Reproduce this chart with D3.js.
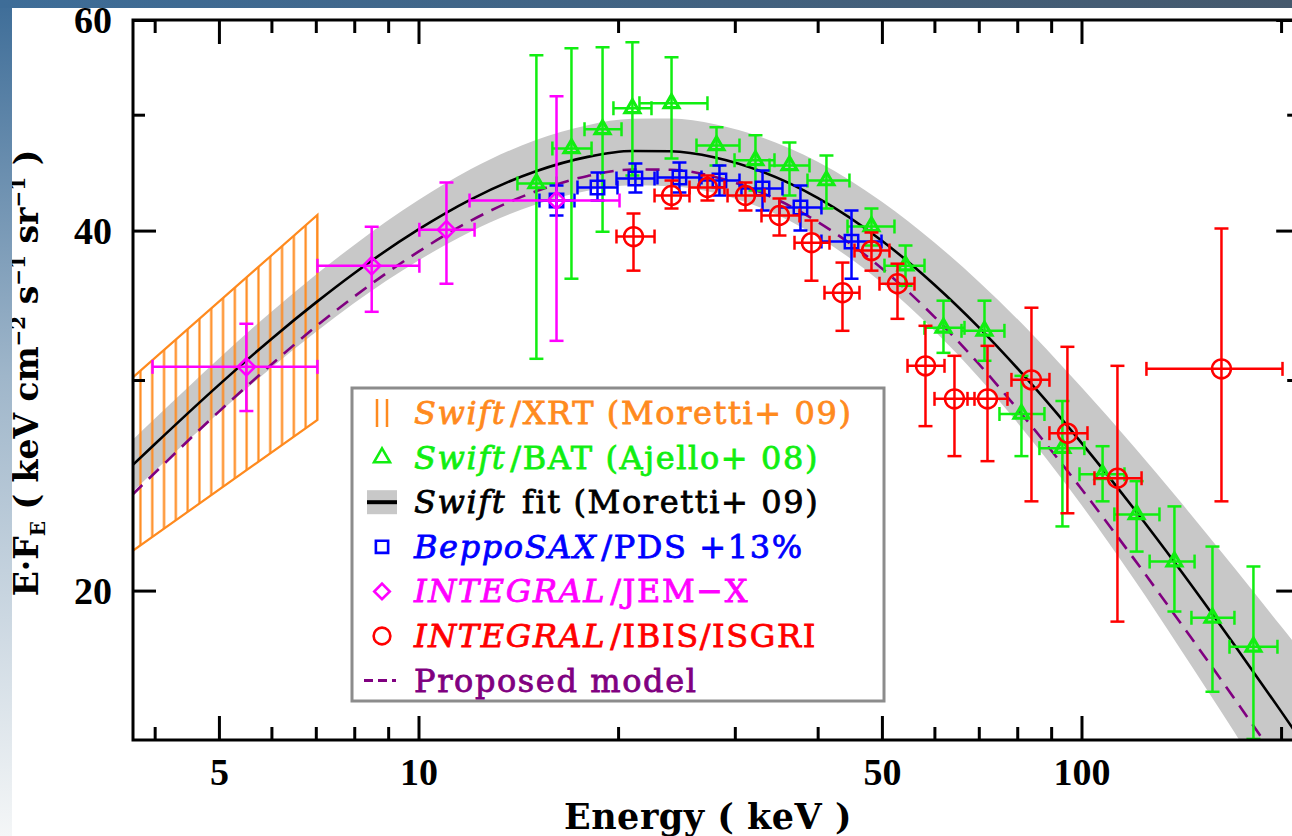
<!DOCTYPE html>
<html><head><meta charset="utf-8">
<script src="https://cdn.jsdelivr.net/npm/d3@7"></script>
<style>body{margin:0;background:#fff;} svg{display:block}</style>
</head><body>
<svg id="c" width="1292" height="836"></svg>
<script>
// ---------------- data ----------------
const xTicksMajor = [5, 10, 50, 100];
const xTicksMinor = [4, 6, 7, 8, 9, 20, 30, 40, 60, 70, 80, 90, 200];
const yTicksMajor = [20, 40, 60];
const yTicksMinor = [30, 50];

// Swift fit (Moretti+09) and its band, E*F_E
const fitE    = [3.7, 4, 5, 6, 7, 8, 10, 12, 15, 18, 21, 24, 28, 33, 40, 50, 60, 70, 85, 100, 120, 140, 170, 200, 220];
const fitF    = [25.45, 26.51, 29.72, 32.47, 34.82, 36.85, 40.09, 42.48, 44.82, 46.10, 46.62, 46.60, 46.05, 44.80, 42.60, 39.23, 36.04, 33.20, 29.56, 26.58, 23.41, 20.91, 18.02, 15.85, 14.68];
const fitHigh = [26.72, 27.84, 31.27, 34.22, 36.74, 38.91, 42.42, 45.03, 47.60, 49.00, 49.60, 49.63, 49.09, 47.85, 45.67, 42.29, 39.10, 36.25, 32.61, 29.58, 26.38, 23.84, 20.90, 18.67, 17.47];
const fitLow  = [24.18, 25.18, 28.17, 30.72, 32.90, 34.79, 37.76, 39.93, 42.04, 43.19, 43.64, 43.57, 43.01, 41.75, 39.53, 36.17, 32.98, 30.15, 26.52, 23.58, 20.44, 17.98, 15.23, 13.16, 12.04];
// Proposed model (dashed)
const modelF  = [24.05, 25.08, 28.23, 30.91, 33.25, 35.23, 38.41, 40.78, 43.12, 44.44, 44.99, 44.97, 44.35, 43.01, 40.68, 37.19, 33.88, 30.94, 27.25, 24.32, 21.26, 18.90, 16.25, 14.27, 13.21];

// Swift/XRT bow-tie (hatched)
const xrtE    = [3.71, 7.04];
const xrtHigh = [29.15, 41.22];
const xrtLow  = [21.02, 27.78];

// rows: [E, Elo, Ehi, F, Flo, Fhi]
const bat = [
  [15.06, 14.10, 16.15, 43.80, 31.25, 56.07],
  [17.01, 15.92, 18.24, 46.86, 36.46, 56.83],
  [18.95, 17.80, 20.24, 48.61, 39.92, 56.94],
  [21.02, 19.68, 22.46, 50.62, 44.48, 57.49],
  [24.08, 21.54, 27.28, 51.11, 45.96, 55.85],
  [28.15, 26.26, 30.49, 47.13, 45.35, 48.80],
  [32.23, 29.97, 34.43, 45.79, 43.21, 48.05],
  [36.27, 33.84, 38.88, 45.35, 42.80, 47.40],
  [41.24, 38.61, 44.67, 44.05, 41.74, 46.23],
  [48.22, 44.37, 52.23, 40.32, 38.86, 41.74],
  [54.27, 50.45, 57.97, 37.39, 35.97, 38.86],
  [61.92, 57.97, 66.61, 33.17, 31.61, 34.95],
  [71.40, 65.92, 76.52, 32.98, 31.13, 34.95],
  [81.18, 75.21, 87.93, 28.10, 25.91, 30.24],
  [93.59, 86.41, 101.0, 26.31, 22.63, 28.81],
  [107.6, 99.31, 116.1, 25.02, 23.75, 26.41],
  [121.1, 112.1, 131.1, 23.16, 21.56, 24.69],
  [138.1, 126.7, 148.1, 21.15, 19.21, 23.52],
  [157.6, 146.5, 170.1, 18.98, 16.46, 21.77],
  [181.7, 167.2, 197.5, 17.95, 15.03, 20.95]
];
const pds = [
  [16.15, 15.22, 17.19, 42.39, 41.18, 43.63],
  [18.62, 17.37, 19.96, 43.46, 42.39, 44.74],
  [21.24, 19.89, 22.70, 44.22, 43.05, 45.52],
  [24.75, 22.93, 26.72, 44.31, 43.05, 45.61],
  [28.44, 26.53, 30.49, 44.05, 42.80, 45.35],
  [33.03, 30.70, 35.40, 43.38, 41.58, 44.91],
  [37.68, 35.03, 40.53, 41.82, 40.00, 43.63],
  [44.99, 40.53, 49.93, 39.16, 36.46, 41.58]
];
const jemx = [
  [5.50, 3.97, 7.04, 30.77, 28.26, 33.43],
  [8.50, 7.04, 10.03, 37.38, 34.21, 40.30],
  [11.02, 10.03, 12.15, 40.07, 36.11, 43.89],
  [16.15, 11.94, 20.10, 42.39, 32.35, 51.80]
];
const isgri = [
  [21.10, 19.89, 22.70, 39.54, 37.03, 41.34],
  [24.08, 22.70, 25.63, 42.80, 41.74, 44.05],
  [27.28, 25.63, 28.94, 43.46, 42.39, 44.48],
  [31.13, 29.25, 33.26, 42.80, 41.58, 43.89],
  [35.03, 32.91, 37.55, 41.18, 39.62, 42.55],
  [39.15, 36.91, 41.68, 39.08, 36.32, 40.79],
  [43.60, 40.96, 46.25, 35.49, 32.98, 37.61],
  [48.22, 45.46, 51.33, 38.49, 37.03, 39.85],
  [52.78, 49.58, 55.99, 36.11, 33.75, 37.53],
  [58.17, 54.65, 62.14, 30.83, 27.45, 33.30],
  [64.33, 60.02, 68.96, 28.93, 25.91, 31.43],
  [72.15, 67.31, 77.33, 28.93, 25.66, 32.04],
  [84.05, 78.41, 89.47, 30.01, 23.75, 34.48],
  [95.23, 89.47, 102.1, 27.08, 23.21, 31.98],
  [113.3, 104.6, 123.2, 24.83, 18.84, 30.83],
  [162.6, 125.3, 201.0, 30.65, 23.75, 40.16]
];

const legendRows = [
  {it: "Swift", rest: "/XRT (Moretti+ 09)", color: "#ff8a1e", sym: "xrt"},
  {it: "Swift", rest: "/BAT (Ajello+ 08)", color: "#11ee11", sym: "tri"},
  {it: "Swift", rest: " fit (Moretti+ 09)", color: "#000000", sym: "fit"},
  {it: "BeppoSAX", rest: "/PDS +13%", color: "#0000ff", sym: "sq"},
  {it: "INTEGRAL", rest: "/JEM\u2212X", color: "#ff00ff", sym: "dia"},
  {it: "INTEGRAL", rest: "/IBIS/ISGRI", color: "#ff0000", sym: "circ"},
  {it: "", rest: "Proposed model", color: "#800080", sym: "dash"}
];

// ---------------- layout ----------------
const svg = d3.select("#c");
const L = 133, R = 1299.2, T = 20, B = 740;
const x = d3.scaleLog().domain([3.71, 213]).range([L, R]);
const y = d3.scaleLog().domain([15, 60]).range([B, T]);

const C = {green: "#11ee11", blue: "#0000ff", mag: "#ff00ff", red: "#ff0000", orange: "#ff8a1e", purple: "#800080", band: "#c8c8c8"};

svg.append("rect").attr("width", 1292).attr("height", 836).attr("fill", "#fff");
const defs = svg.append("defs");
defs.append("clipPath").attr("id", "clip").append("rect").attr("x", L).attr("y", T).attr("width", R - L).attr("height", B - T);

// hatch pattern
const hs = 11.8;
const pat = defs.append("pattern").attr("id", "hatch").attr("patternUnits", "userSpaceOnUse")
  .attr("width", hs).attr("height", 20).attr("x", x(xrtE[1]) - 1.5 - hs * Math.floor((x(xrtE[1]) - 1.5) / hs)).attr("y", 0);
pat.append("line").attr("x1", 1.5).attr("x2", 1.5).attr("y1", 0).attr("y2", 20).attr("stroke", C.orange).attr("stroke-width", 2.2);

const plot = svg.append("g").attr("clip-path", "url(#clip)");

// band
const idx = d3.range(fitE.length);
plot.append("path")
  .attr("d", d3.area().x(i => x(fitE[i])).y0(i => y(fitLow[i])).y1(i => y(fitHigh[i])).curve(d3.curveMonotoneX)(idx))
  .attr("fill", C.band);

// XRT hatched bow-tie
const xrtPoly = [[xrtE[0], xrtHigh[0]], [xrtE[1], xrtHigh[1]], [xrtE[1], xrtLow[1]], [xrtE[0], xrtLow[0]]];
plot.append("path")
  .attr("d", "M" + xrtPoly.map(p => [x(p[0]) - (p[0] === xrtE[0] ? 20 : 0), y(p[1])].join(",")).join("L") + "Z")
  .attr("fill", "url(#hatch)").attr("stroke", C.orange).attr("stroke-width", 2.2);

// fit line
plot.append("path")
  .attr("d", d3.line().x(i => x(fitE[i])).y(i => y(fitF[i])).curve(d3.curveMonotoneX)(idx))
  .attr("fill", "none").attr("stroke", "#000").attr("stroke-width", 2.6);
// model dashed
plot.append("path")
  .attr("d", d3.line().x(i => x(fitE[i])).y(i => y(modelF[i])).curve(d3.curveMonotoneX)(idx))
  .attr("fill", "none").attr("stroke", C.purple).attr("stroke-width", 2.6).attr("stroke-dasharray", "14,9");

// symbols
function symPath(kind) {
  if (kind === "tri") return d3.symbol(d3.symbolTriangle, 95)();
  if (kind === "sq") return d3.symbol(d3.symbolSquare, 180)();
  if (kind === "dia") return d3.symbol(d3.symbolSquare, 150)();
  if (kind === "circ") return d3.symbol(d3.symbolCircle, 280)();
}
function series(data, color, kind) {
  const g = plot.append("g").attr("stroke", color).attr("stroke-width", 2.5).attr("fill", "none");
  const cap = 7;
  data.forEach(d => {
    const [E, Elo, Ehi, F, Flo, Fhi] = d;
    const cx = x(E), cy = y(F);
    g.append("line").attr("x1", x(Elo)).attr("x2", x(Ehi)).attr("y1", cy).attr("y2", cy);
    g.append("line").attr("x1", cx).attr("x2", cx).attr("y1", y(Flo)).attr("y2", y(Fhi));
    [Flo, Fhi].forEach(v => g.append("line").attr("x1", cx - cap).attr("x2", cx + cap).attr("y1", y(v)).attr("y2", y(v)));
    [Elo, Ehi].forEach(v => g.append("line").attr("x1", x(v)).attr("x2", x(v)).attr("y1", cy - cap).attr("y2", cy + cap));
    g.append("path").attr("d", symPath(kind)).attr("stroke-width", kind === "tri" ? 3.2 : 2.5)
      .attr("transform", `translate(${cx},${cy})` + (kind === "dia" ? " rotate(45)" : ""));
  });
}
series(bat, C.green, "tri");
series(pds, C.blue, "sq");
series(jemx, C.mag, "dia");
series(isgri, C.red, "circ");

// ---------------- axes ----------------
const tickFont = "'Liberation Serif', serif";
function styleAxis(g) {
  g.select(".domain").remove();
  g.selectAll(".tick line").attr("stroke", "#000").attr("stroke-width", 3);
}
svg.append("g").attr("transform", `translate(0,${B})`)
  .call(d3.axisBottom(x).tickValues(xTicksMajor).tickSize(-24).tickFormat(d3.format("d")))
  .call(styleAxis)
  .call(g => g.selectAll(".tick text").attr("y", 45).attr("dy", null)
    .attr("font-family", tickFont).attr("font-weight", "bold").attr("font-size", 38).attr("fill", "#000"));
svg.append("g").attr("transform", `translate(0,${B})`)
  .call(d3.axisBottom(x).tickValues(xTicksMinor).tickSize(-13).tickFormat(""))
  .call(styleAxis);
svg.append("g").attr("transform", `translate(0,${T})`)
  .call(d3.axisTop(x).tickValues(xTicksMajor).tickSize(-24).tickFormat(""))
  .call(styleAxis);
svg.append("g").attr("transform", `translate(0,${T})`)
  .call(d3.axisTop(x).tickValues(xTicksMinor).tickSize(-13).tickFormat(""))
  .call(styleAxis);
svg.append("g").attr("transform", `translate(${L},0)`)
  .call(d3.axisLeft(y).tickValues(yTicksMajor).tickSize(-23).tickFormat(d3.format("d")))
  .call(styleAxis)
  .call(g => g.selectAll(".tick text").attr("x", -21).attr("dy", "0.34em")
    .attr("font-family", tickFont).attr("font-weight", "bold").attr("font-size", 38).attr("fill", "#000"));
svg.append("g").attr("transform", `translate(${L},0)`)
  .call(d3.axisLeft(y).tickValues(yTicksMinor).tickSize(-12).tickFormat(""))
  .call(styleAxis);
svg.append("g").attr("transform", `translate(${R},0)`)
  .call(d3.axisRight(y).tickValues(yTicksMajor).tickSize(-23).tickFormat(""))
  .call(styleAxis);
svg.append("g").attr("transform", `translate(${R},0)`)
  .call(d3.axisRight(y).tickValues(yTicksMinor).tickSize(-12).tickFormat(""))
  .call(styleAxis);

svg.append("rect").attr("x", L).attr("y", T).attr("width", R - L).attr("height", B - T)
  .attr("fill", "none").attr("stroke", "#000").attr("stroke-width", 3);

// axis titles
svg.append("text").attr("x", 708).attr("y", 829).attr("text-anchor", "middle")
  .attr("font-family", "'DejaVu Serif', serif").attr("font-weight", "bold").attr("font-size", 35)
  .attr("letter-spacing", 0.5)
  .text("Energy ( keV )");

const yl = svg.append("text").attr("transform", "translate(38,373) rotate(-90)").attr("text-anchor", "middle")
  .attr("font-family", "'DejaVu Serif', serif").attr("font-weight", "bold").attr("font-size", 33);
yl.append("tspan").text("E\u00b7F");
yl.append("tspan").attr("font-size", 20).attr("dy", 7).text("E");
yl.append("tspan").attr("dy", -7).text(" ( keV cm");
yl.append("tspan").attr("font-size", 20).attr("dy", -13).text("\u22122");
yl.append("tspan").attr("dy", 13).text(" s");
yl.append("tspan").attr("font-size", 20).attr("dy", -13).text("\u22121");
yl.append("tspan").attr("dy", 13).text(" sr");
yl.append("tspan").attr("font-size", 20).attr("dy", -13).text("\u22121");
yl.append("tspan").attr("dy", 13).text(" )");

// ---------------- legend ----------------
const lg = svg.append("g");
lg.append("rect").attr("x", 352).attr("y", 388).attr("width", 532).attr("height", 313)
  .attr("fill", "#fff").attr("stroke", "#8c8c8c").attr("stroke-width", 3);
const rowY0 = 413, rowDY = 44.6, symX = 382, txtX = 414;
legendRows.forEach((r, i) => {
  const cy = rowY0 + i * rowDY;
  const s = lg.append("g").attr("transform", `translate(${symX},${cy})`);
  if (r.sym === "xrt") {
    [-5, 5].forEach(dx => s.append("line").attr("x1", dx).attr("x2", dx).attr("y1", -14).attr("y2", 14).attr("stroke", r.color).attr("stroke-width", 2.5));
  } else if (r.sym === "fit") {
    s.append("rect").attr("x", -15).attr("y", -12).attr("width", 30).attr("height", 24).attr("fill", C.band);
    s.append("line").attr("x1", -15).attr("x2", 15).attr("stroke", "#000").attr("stroke-width", 4);
  } else if (r.sym === "dash") {
    s.append("line").attr("x1", -18).attr("x2", 14).attr("stroke", r.color).attr("stroke-width", 3).attr("stroke-dasharray", "9,5");
  } else {
    const sz = {tri: 110, sq: 150, dia: 120, circ: 220}[r.sym];
    const sh = {tri: d3.symbolTriangle, sq: d3.symbolSquare, dia: d3.symbolSquare, circ: d3.symbolCircle}[r.sym];
    s.append("path").attr("d", d3.symbol(sh, sz)()).attr("fill", "none").attr("stroke", r.color).attr("stroke-width", 2.6)
      .attr("transform", r.sym === "dia" ? "rotate(45)" : null);
  }
  const t = lg.append("text").attr("x", txtX).attr("y", cy + 11)
    .attr("font-family", "'DejaVu Serif', serif").attr("font-size", 32).attr("letter-spacing", 1.6)
    .attr("fill", r.color).attr("stroke", r.color).attr("stroke-width", 0.8);
  if (r.it) t.append("tspan").attr("font-style", "italic").text(r.it);
  t.append("tspan").attr("dx", r.it ? 4 : 0).text(r.rest);
});

// ---------------- slide background edges ----------------
const gr1 = defs.append("linearGradient").attr("id", "gTop").attr("x1", 0).attr("x2", 1).attr("y1", 0).attr("y2", 0);
gr1.append("stop").attr("offset", 0).attr("stop-color", "#3e6d98");
gr1.append("stop").attr("offset", 1).attr("stop-color", "#45596d");
const gr2 = defs.append("linearGradient").attr("id", "gLeft").attr("x1", 0).attr("x2", 0).attr("y1", 0).attr("y2", 1);
gr2.append("stop").attr("offset", 0).attr("stop-color", "#3e6d98");
gr2.append("stop").attr("offset", 0.45).attr("stop-color", "#9fb6ca");
gr2.append("stop").attr("offset", 1).attr("stop-color", "#f4f6f7");
svg.append("rect").attr("x", 0).attr("y", 0).attr("width", 12).attr("height", 836).attr("fill", "url(#gLeft)");
svg.append("rect").attr("x", 0).attr("y", 0).attr("width", 1292).attr("height", 8).attr("fill", "url(#gTop)");
</script>
</body></html>
